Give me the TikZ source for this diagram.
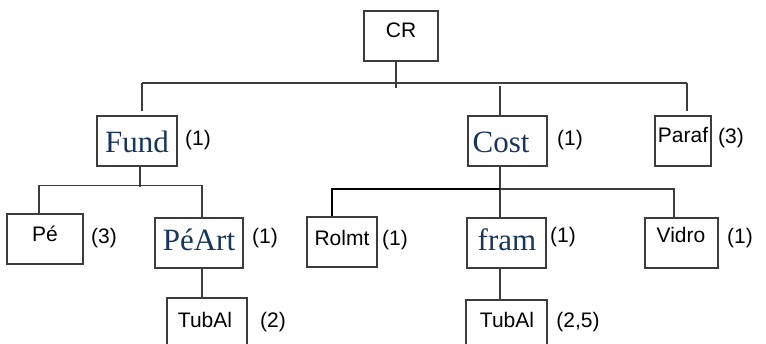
\documentclass[tikz,border=0pt]{standalone}
\usepackage{fontspec}
\setmainfont{Liberation Serif}
\setsansfont{Liberation Sans}
\usetikzlibrary{calc}
\definecolor{navy}{RGB}{23,54,93}
\definecolor{linec}{RGB}{60,60,60}
\tikzset{
  box/.style={draw=linec, line width=1.2pt, inner sep=0pt, minimum height=50pt},
  sanslbl/.style={anchor=base, inner sep=0pt, font=\sffamily\fontsize{21}{25}\selectfont, text=black},
  seriflbl/.style={anchor=base, inner sep=0pt, font=\rmfamily\fontsize{31}{35}\selectfont, text=navy},
  conn/.style={draw=linec, line width=1.1pt},
  thickconn/.style={draw=black, line width=2pt}
}
\begin{document}
\begin{tikzpicture}[x=1pt,y=-1pt]
\useasboundingbox (0,0) rectangle (766,344);
\clip (0,0) rectangle (766,344);
% boxes
\node[box, minimum width=74pt] (cr) at (401,36) {};
\node[box, minimum width=80pt] (fund) at (137,141) {};
\node[box, minimum width=79pt] (cost) at (507.5,141) {};
\node[box, minimum width=56pt] (paraf) at (683,141) {};
\node[box, minimum width=76pt] (pe) at (45,239) {};
\node[box, minimum width=88pt] (peart) at (199,243) {};
\node[box, minimum width=70pt] (rolmt) at (342,242) {};
\node[box, minimum width=79pt] (fram) at (506.5,243) {};
\node[box, minimum width=73pt] (vidro) at (681.5,243) {};
\node[box, minimum width=80pt] (tub1) at (207,323) {};
\node[box, minimum width=81pt] (tub2) at (506.5,325) {};
% texts
\node[sanslbl] (tcr) at (401,38) {CR};
\node[seriflbl] (tfund) at (137,153) {Fund};
\node[sanslbl] (nfund) at (198,146) {(1)};
\node[seriflbl] (tcost) at (501,153) {Cost};
\node[sanslbl] (ncost) at (570,146) {(1)};
\node[sanslbl] (tparaf) at (683,143) {Paraf};
\node[sanslbl] (nparaf) at (731,144) {(3)};
\node[sanslbl] (tpe) at (45,242) {Pé};
\node[sanslbl] (npe) at (104,244) {(3)};
\node[seriflbl] (tpeart) at (199,251) {PéArt};
\node[sanslbl] (npeart) at (265,244) {(1)};
\node[sanslbl] (trolmt) at (342,246) {Rolmt};
\node[sanslbl] (nrolmt) at (395,246) {(1)};
\node[seriflbl] (tfram) at (507,251) {fram};
\node[sanslbl] (nfram) at (563,243) {(1)};
\node[sanslbl] (tvidro) at (681,243) {Vidro};
\node[sanslbl] (nvidro) at (740,244) {(1)};
\node[sanslbl] (ttub1) at (205,328) {TubAl};
\node[sanslbl] (ntub1) at (273,328) {(2)};
\node[sanslbl] (ttub2) at (507,328) {TubAl};
\node[sanslbl] (ntub2) at (578,328) {(2,5)};
% connectors
\coordinate (b1) at (142,83);
\coordinate (b2) at (687,83);
\coordinate (cj) at (500,189);
\draw[conn] ($(cr.south)+(-5,0)$) -- ($(cr.south)+(-5,26)$);
\draw[conn] (b1) -- (b2);
\draw[conn] (b1) -- ($(fund.north)+(5,-4)$);
\draw[conn] (b2) -- ($(paraf.north)+(4,-4)$);
\draw[conn] ($(cost.north)+(-7.5,-29)$) -- ($(cost.north)+(-7.5,0)$);
\draw[conn] ($(fund.south)+(3,0)$) -- ($(fund.south)+(3,20)$);
\draw[conn] ($(pe.north)+(-6,0)$) |- ($(peart.north)+(3,-32)$) -- ($(peart.north)+(3,0)$);
\draw[conn] ($(cost.south)+(-7.5,0)$) -- (cj);
\draw[conn] (cj) -| ($(vidro.north)+(-7.5,0)$);
\draw[conn] (cj) -- ($(fram.north)+(-6.5,0)$);
\draw[thickconn] ($(rolmt.north)+(-10,0)$) |- (cj);
\draw[conn] ($(peart.south)+(3,0)$) -- ($(tub1.north)+(-5,0)$);
\draw[conn] ($(fram.south)+(-6.5,0)$) -- ($(tub2.north)+(-6.5,0)$);
\end{tikzpicture}
\end{document}
